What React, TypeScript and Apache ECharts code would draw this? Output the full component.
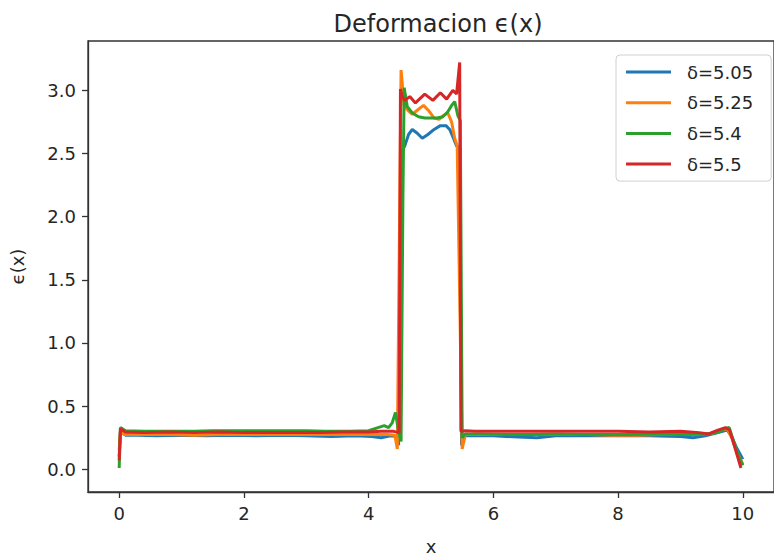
import React, { useEffect, useRef } from "react";
import * as echarts from "echarts";

// Strain profiles ϵ(x) for four values of δ, as [x, ϵ] pairs
const delta505: [number, number][] = [
  [0.0, 0.1], [0.02, 0.3], [0.1, 0.27], [0.3, 0.27], [0.6, 0.265], [1.0, 0.27], [1.4, 0.265], [1.8, 0.27],
  [2.2, 0.265], [2.6, 0.27], [3.0, 0.265], [3.4, 0.26], [3.8, 0.265], [4.05, 0.26], [4.2, 0.25], [4.35, 0.265],
  [4.45, 0.26], [4.48, 0.19], [4.53, 2.52], [4.58, 2.56], [4.64, 2.65], [4.7, 2.69], [4.78, 2.66],
  [4.86, 2.62], [4.95, 2.65], [5.05, 2.69], [5.15, 2.72], [5.24, 2.72], [5.3, 2.69], [5.36, 2.62],
  [5.41, 2.56], [5.45, 2.55], [5.49, 0.19], [5.54, 0.265], [5.7, 0.265], [6.0, 0.265], [6.4, 0.255],
  [6.7, 0.25], [7.0, 0.265], [7.5, 0.265], [8.0, 0.265], [8.5, 0.265], [9.0, 0.26], [9.2, 0.25], [9.4, 0.265],
  [9.6, 0.29], [9.75, 0.31], [9.82, 0.26], [9.9, 0.17], [10.0, 0.08],
];

const delta525: [number, number][] = [
  [0.0, 0.15], [0.02, 0.29], [0.1, 0.275], [0.4, 0.275], [0.8, 0.275], [1.2, 0.27], [1.6, 0.275], [2.0, 0.275],
  [2.5, 0.275], [3.0, 0.275], [3.5, 0.275], [4.0, 0.275], [4.3, 0.275], [4.42, 0.27], [4.46, 0.16],
  [4.52, 3.16], [4.57, 2.88], [4.63, 2.84], [4.7, 2.81], [4.8, 2.85], [4.88, 2.88], [4.96, 2.84],
  [5.05, 2.78], [5.13, 2.77], [5.2, 2.8], [5.27, 2.82], [5.33, 2.75], [5.38, 2.62], [5.42, 2.56],
  [5.5, 0.16], [5.55, 0.275], [5.8, 0.275], [6.2, 0.275], [6.6, 0.275], [7.0, 0.275], [7.5, 0.275], [7.9, 0.27],
  [8.3, 0.27], [8.7, 0.275], [9.2, 0.275], [9.5, 0.285], [9.65, 0.31], [9.75, 0.32], [9.83, 0.24],
  [9.9, 0.14], [10.0, 0.04],
];

const delta54: [number, number][] = [
  [0.0, 0.01], [0.02, 0.33], [0.1, 0.305], [0.4, 0.3], [0.8, 0.3], [1.2, 0.3], [1.5, 0.305], [2.0, 0.305],
  [2.5, 0.305], [3.0, 0.305], [3.3, 0.3], [3.7, 0.3], [4.0, 0.305], [4.15, 0.33], [4.25, 0.345], [4.32, 0.33],
  [4.38, 0.37], [4.43, 0.45], [4.48, 0.3], [4.52, 0.22], [4.55, 2.16], [4.57, 3.02], [4.62, 2.87],
  [4.7, 2.82], [4.8, 2.79], [4.9, 2.78], [5.0, 2.78], [5.1, 2.78], [5.19, 2.79], [5.27, 2.83], [5.33, 2.88],
  [5.38, 2.91], [5.43, 2.8], [5.47, 2.76], [5.5, 0.25], [5.55, 0.28], [5.8, 0.28], [6.2, 0.275],
  [6.6, 0.275], [7.0, 0.28], [7.4, 0.275], [7.8, 0.275], [8.2, 0.275], [8.6, 0.28], [9.0, 0.275], [9.4, 0.28],
  [9.6, 0.29], [9.7, 0.32], [9.78, 0.33], [9.84, 0.24], [9.92, 0.12], [10.0, 0.03],
];

const delta55: [number, number][] = [
  [0.0, 0.07], [0.02, 0.32], [0.1, 0.295], [0.4, 0.29], [0.8, 0.295], [1.2, 0.29], [1.6, 0.295], [2.0, 0.29],
  [2.4, 0.29], [2.8, 0.29], [3.2, 0.29], [3.6, 0.295], [4.0, 0.295], [4.2, 0.3], [4.4, 0.3], [4.49, 0.29],
  [4.51, 3.01], [4.54, 2.95], [4.58, 2.92], [4.66, 2.95], [4.75, 2.9], [4.9, 2.97], [5.03, 2.92],
  [5.15, 2.98], [5.25, 2.93], [5.35, 3.0], [5.41, 2.97], [5.46, 3.22], [5.48, 0.3], [5.55, 0.305],
  [5.7, 0.3], [6.0, 0.3], [6.5, 0.3], [7.0, 0.3], [7.5, 0.3], [8.0, 0.3], [8.5, 0.295], [9.0, 0.3],
  [9.3, 0.29], [9.45, 0.28], [9.6, 0.31], [9.72, 0.33], [9.79, 0.31], [9.85, 0.21], [9.91, 0.11],
  [9.97, 0.01],
];

const seriesNames = ["δ=5.05", "δ=5.25", "δ=5.4", "δ=5.5"];
const seriesColors = ["#1f77b4", "#ff7f0e", "#2ca02c", "#d62728"];
const xTicks = [0, 2, 4, 6, 8, 10];
const yTicks = [0, 0.5, 1.0, 1.5, 2.0, 2.5, 3.0];

const FONT = "DejaVu Sans";
const TEXT = "#262626";

export default function App() {
  const ref = useRef<HTMLDivElement>(null);

  useEffect(() => {
    if (!ref.current) return;
    const chart = echarts.init(ref.current, undefined, { renderer: "svg" });
    const datasets = [delta505, delta525, delta54, delta55];

    chart.setOption({
      animation: false,
      backgroundColor: "#ffffff",
      title: {
        text: "Deformacion ϵ(x)",
        left: 433,
        top: 7,
        textAlign: "center",
        textStyle: { fontFamily: FONT, fontSize: 24, fontWeight: "normal", color: TEXT },
      },
      grid: {
        left: 88,
        top: 41,
        width: 696,
        height: 454,
        show: true,
        borderColor: "#333",
        borderWidth: 1.3,
        containLabel: false,
      },
      legend: {
        orient: "vertical",
        left: 616,
        top: 55,
        data: seriesNames,
        icon: "rect",
        itemWidth: 45,
        itemHeight: 3,
        itemGap: 12.7,
        padding: [8, 18, 8, 10],
        backgroundColor: "#ffffff",
        borderColor: "#d0d0d0",
        borderWidth: 1,
        borderRadius: 4,
        textStyle: { fontFamily: FONT, fontSize: 18, color: TEXT, padding: [0, 0, 0, 11] },
      },
      xAxis: {
        type: "value",
        min: -0.5,
        max: 10.5,
        name: "x",
        nameLocation: "middle",
        nameGap: 45,
        nameTextStyle: { fontFamily: FONT, fontSize: 18, color: TEXT },
        splitLine: { show: false },
        axisLine: { show: true, onZero: false, lineStyle: { color: "#333", width: 1.3 } },
        axisTick: { show: true, inside: false, length: 6, customValues: xTicks, lineStyle: { color: "#333", width: 1.3 } },
        axisLabel: {
          customValues: xTicks,
          margin: 12,
          fontFamily: FONT,
          fontSize: 18,
          color: TEXT,
          formatter: (v: number) => String(v),
        },
      },
      yAxis: {
        type: "value",
        min: -0.18,
        max: 3.39,
        name: "ϵ(x)",
        nameLocation: "middle",
        nameGap: 62,
        nameTextStyle: { fontFamily: FONT, fontSize: 18, color: TEXT },
        splitLine: { show: false },
        axisLine: { show: true, onZero: false, lineStyle: { color: "#333", width: 1.3 } },
        axisTick: { show: true, inside: false, length: 6, customValues: yTicks, lineStyle: { color: "#333", width: 1.3 } },
        axisLabel: {
          customValues: yTicks,
          margin: 12,
          fontFamily: FONT,
          fontSize: 18,
          color: TEXT,
          formatter: (v: number) => v.toFixed(1),
        },
      },
      series: datasets.map((d, i) => ({
        name: seriesNames[i],
        type: "line",
        data: d,
        symbol: "none",
        showSymbol: false,
        color: seriesColors[i],
        lineStyle: { color: seriesColors[i], width: 3 },
        z: 2 + i,
      })),
    });

    return () => chart.dispose();
  }, []);

  return (
    <div
      ref={ref}
      style={{ position: "fixed", left: 0, top: 0, width: 774, height: 560, background: "#fff" }}
    />
  );
}
